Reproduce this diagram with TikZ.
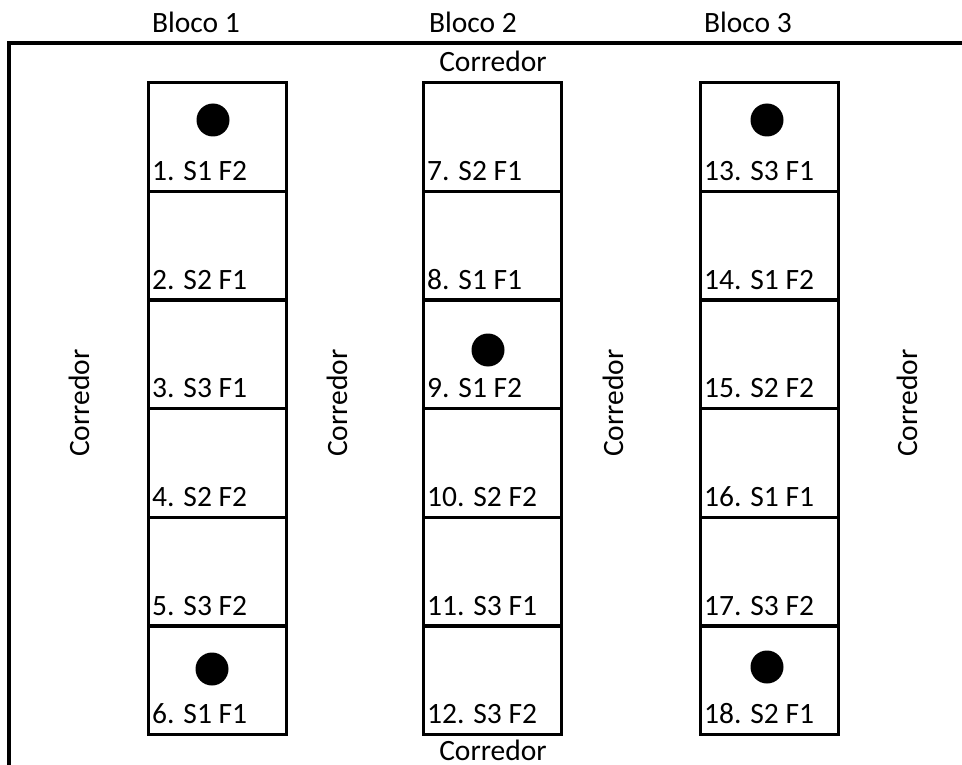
\documentclass[tikz,border=0pt]{standalone}
\usepackage{fontspec}
\setmainfont{Carlito}
\begin{document}
\begin{tikzpicture}[x=1pt,y=-1pt,
  cell/.style={draw, line width=3.2pt, minimum width=138pt, minimum height=108.67pt, inner sep=0pt, anchor=north west},
  lbl/.style={font=\fontsize{29.5}{34}\selectfont, inner sep=0pt, anchor=base west},
  title/.style={font=\fontsize{29.5}{34}\selectfont, inner sep=0pt, anchor=base},
  vtitle/.style={font=\fontsize{29.5}{34}\selectfont, inner sep=0pt, rotate=90},
  dot/.style={circle, fill=black, minimum size=33pt, inner sep=0pt},
  frame/.style={line width=3.2pt}]
\useasboundingbox (0,0) rectangle (962,765);
% partial frame
\coordinate (ftr) at (962,43);
\coordinate (ftl) at (9,43);
\coordinate (fbl) at (9,765);
\draw[frame] (ftr) -- (ftl) -- (fbl);
% titles
\node[title] (b1) at (196,33) {Bloco 1};
\node[title] (b2) at (473,33) {Bloco 2};
\node[title] (b3) at (748,33) {Bloco 3};
\node[title] (ctop) at (493,72) {Corredor};
\node[title, text depth=0pt] (cbot) at (493,760) {Corredor};
\node[vtitle] (cv1) at (79,403) {Corredor};
\node[vtitle] (cv2) at (337,403) {Corredor};
\node[vtitle] (cv3) at (613,403) {Corredor};
\node[vtitle] (cv4) at (907,403) {Corredor};
% cells
\foreach \n/\x/\r/\t in {
  1/147/0/{1. S1 F2}, 2/147/1/{2. S2 F1}, 3/147/2/{3. S3 F1},
  4/147/3/{4. S2 F2}, 5/147/4/{5. S3 F2}, 6/147/5/{6. S1 F1},
  7/422/0/{7. S2 F1}, 8/422/1/{8. S1 F1}, 9/422/2/{9. S1 F2},
  10/422/3/{10. S2 F2}, 11/422/4/{11. S3 F1}, 12/422/5/{12. S3 F2},
  13/699/0/{13. S3 F1}, 14/699/1/{14. S1 F2}, 15/699/2/{15. S2 F2},
  16/699/3/{16. S1 F1}, 17/699/4/{17. S3 F2}, 18/699/5/{18. S2 F1}} {
  \node[cell] (c\n) at (\x, 81+108.67*\r) {};
  \node[lbl] (l\n) at (\x+5, 81+108.67*\r+99.5) {\t};
}
% dots
\node[dot] (d1) at (213,120) {};
\node[dot] (d6) at (212,669) {};
\node[dot] (d9) at (488,350) {};
\node[dot] (d13) at (767,120) {};
\node[dot] (d18) at (767,667) {};
\end{tikzpicture}
\end{document}
